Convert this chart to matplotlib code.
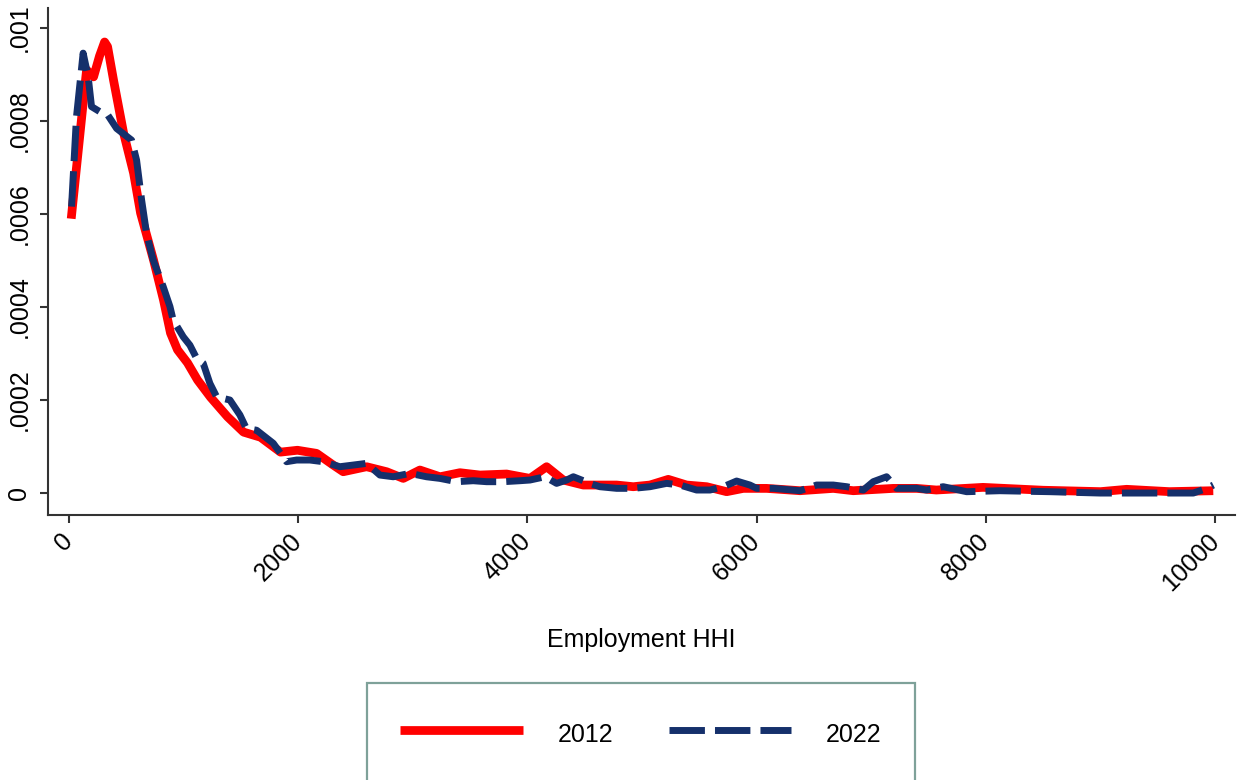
import matplotlib.pyplot as plt
from matplotlib.ticker import FixedLocator

plt.rcParams['font.family'] = ['Liberation Sans', 'DejaVu Sans']

# kernel density of employment HHI
hhi_2012 = [23, 157, 218, 270, 314, 340, 392, 480, 567, 628, 741, 828, 889, 950,
            1037, 1125, 1238, 1386, 1526, 1674, 1848, 1996, 2163, 2308, 2395,
            2599, 2774, 2919, 3064, 3239, 3413, 3588, 3820, 4024, 4169, 4314,
            4489, 4780, 4925, 5070, 5230, 5390, 5565, 5739, 5884, 6088, 6379,
            6669, 6844, 7192, 7396, 7568, 7975, 8500, 9000, 9228, 9600, 9983]
dens_2012 = [.00059, .00091, .000895, .00094, .00097, .00096, .000888, .000774,
             .000688, .000602, .000501, .000415, .000344, .000308, .00028,
             .000243, .000206, .000164, .000131, .00012, .000088, .000092,
             .0000853, .0000602, .0000458, .0000566, .0000458, .0000315,
             .0000495, .000035, .0000437, .0000387, .0000409, .0000315,
             .0000566, .000028, .0000172, .0000172, .0000136, .0000172,
             .0000294, .0000172, .0000136, .0000029, .00001, .00001, .000005,
             .00001, .000005, .00001, .00001, .0000065, .0000122, .000006,
             .000003, .000008, .000003, .000005]

hhi_2022 = [26, 69, 127, 171, 200, 273, 331, 419, 549, 593, 637, 680, 738, 825,
            884, 912, 1000, 1058, 1116, 1174, 1232, 1291, 1407, 1494, 1550,
            1640, 1785, 1901, 1989, 2105, 2221, 2366, 2483, 2599, 2715, 2832,
            2977, 3122, 3239, 3384, 3529, 3646, 3791, 3936, 4024, 4155, 4256,
            4344, 4402, 4547, 4634, 4780, 4925, 5070, 5216, 5332, 5477, 5594,
            5710, 5826, 5942, 6001, 6146, 6379, 6524, 6669, 6786, 6931, 7018,
            7134, 7222, 7396, 7483, 7628, 7832, 8122, 8559, 8996, 9432, 9809,
            9926, 9984]
dens_2022 = [.000616, .000809, .000946, .000895, .000831, .00082, .000817,
             .000784, .000759, .000716, .00063, .000558, .000501, .000444,
             .000401, .000372, .000336, .000318, .00029, .000279, .000236,
             .000207, .0002, .000168, .000139, .000135, .000107, .0000674,
             .000071, .000071, .0000674, .0000566, .0000602, .0000638,
             .0000387, .000035, .0000423, .000035, .0000315, .0000244,
             .0000265, .0000244, .0000244, .0000265, .000028, .000035,
             .0000208, .000028, .000035, .0000208, .0000136, .0000101,
             .0000101, .0000136, .0000208, .0000172, .0000065, .0000065,
             .0000136, .0000258, .0000172, .0000101, .0000101, .000005,
             .0000172, .0000172, .0000136, .0000065, .0000244, .000035,
             .0000101, .0000101, .0000065, .0000136, .0000029, .000005,
             .0000029, 0, 0, 0, .00001, .0000172]

x_ticks = [0, 2000, 4000, 6000, 8000, 10000]
y_ticks = [0, .0002, .0004, .0006, .0008, .001]
y_labels = ['0', '.0002', '.0004', '.0006', '.0008', '.001']

fig = plt.figure(figsize=(12.42, 7.8), dpi=100)
ax = fig.add_axes([0.0386, 0.3397, 0.9558, 0.65])

ax.plot(hhi_2012, dens_2012, color='#ff0000', lw=6.3, label='2012',
        solid_capstyle='butt', solid_joinstyle='round')
ax.plot(hhi_2022, dens_2022, color='#15306b', lw=5, label='2022',
        dashes=(5.1, 1.45))

ax.set_xlim(-180, 10173)
ax.set_ylim(-0.0000473, 0.001043)

for s in ['top', 'right']:
    ax.spines[s].set_visible(False)
for s in ['left', 'bottom']:
    ax.spines[s].set_linewidth(1.5)
    ax.spines[s].set_color('#333333')

ax.xaxis.set_major_locator(FixedLocator(x_ticks))
ax.yaxis.set_major_locator(FixedLocator(y_ticks))
ax.set_yticklabels(y_labels, rotation=90, va='center')
ax.set_xticklabels([str(v) for v in x_ticks], rotation=45, ha='right',
                   va='center', rotation_mode='anchor')
ax.tick_params(axis='both', labelsize=18, length=6, width=1.5,
               color='#333333', pad=6)
ax.tick_params(axis='x', pad=10)

fig.text(0.516, (780 - 640) / 780, 'Employment HHI', ha='center',
         va='center', fontsize=18)

leg = fig.legend(loc='upper center', bbox_to_anchor=(641 / 1242, (780 - 683) / 780),
                 ncol=2, fontsize=18, frameon=True, fancybox=False,
                 borderpad=1.35, handlelength=4.9, handletextpad=1.4,
                 columnspacing=2.2, borderaxespad=0, handleheight=1.8)
leg.get_frame().set_edgecolor('#5e8a80')
leg.get_frame().set_linewidth(1.6)

fig.savefig('out.png', dpi=100)
